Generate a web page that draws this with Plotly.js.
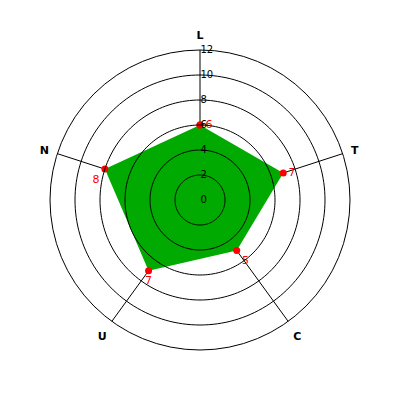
<!DOCTYPE html>
<html>
<head>
<meta charset="utf-8">
<script src="https://cdn.plot.ly/plotly-3.0.1.min.js"></script>
<style>html,body{margin:0;padding:0;background:#fff;}#chart{width:400px;height:400px;}</style>
</head>
<body>
<div id="chart"></div>
<script>
const categories = ["L", "T", "C", "U", "N"];
const values = [6, 7, 5, 7, 8];
const radialTicks = [0, 2, 4, 6, 8, 10, 12];
const gridCircles = [2, 4, 6, 8, 10];
const labelPositions = ["middle right", "middle right", "bottom right", "bottom center", "bottom left"];

const traces = [];
traces.push({
  type: "scatterpolar",
  subplot: "polar",
  r: values.concat([values[0]]),
  theta: categories.concat([categories[0]]),
  mode: "markers+text",
  fill: "toself",
  fillcolor: "#00aa00",
  line: {color: "#00aa00", width: 0},
  marker: {color: "#ff0000", size: 7},
  text: values.map(String).concat([""]),
  textposition: labelPositions.concat(["middle right"]),
  textfont: {color: "#ff0000", size: 11, family: "DejaVu Sans"},
  hoverinfo: "skip",
  showlegend: false,
  cliponaxis: false
});

// grid circles drawn over the fill, in an overlaid polar subplot
const circleThetas = [];
for (let a = 0; a <= 360; a += 2) circleThetas.push(a);
gridCircles.forEach(v => {
  traces.push({
    type: "scatterpolar",
    subplot: "polar2",
    r: circleThetas.map(() => v),
    theta: circleThetas,
    mode: "lines",
    line: {color: "#000", width: 1},
    hoverinfo: "skip",
    showlegend: false
  });
});

const dom = {x: [0.125, 0.875], y: [0.125, 0.875]};
const layout = {
  width: 400, height: 400,
  margin: {l: 0, r: 0, t: 0, b: 0},
  paper_bgcolor: "#fff",
  showlegend: false,
  polar: {
    domain: dom,
    bgcolor: "rgba(0,0,0,0)",
    radialaxis: {
      range: [0, 12],
      tickvals: radialTicks,
      ticktext: radialTicks.map(String),
      angle: 90,
      tickangle: 90,
      side: "clockwise",
      showgrid: false,
      showline: false,
      ticks: "",
      tickfont: {size: 10, family: "DejaVu Sans", color: "#000"},
      layer: "above traces"
    },
    angularaxis: {
      type: "category",
      categoryarray: categories,
      rotation: 90,
      direction: "clockwise",
      showgrid: true,
      gridcolor: "#000",
      gridwidth: 1,
      showline: true,
      linecolor: "#000",
      linewidth: 1,
      ticks: "outside",
      ticklen: 6,
      tickcolor: "rgba(0,0,0,0)",
      tickfont: {size: 11, family: "DejaVu Sans", color: "#000", weight: "bold"}
    }
  },
  polar2: {
    domain: dom,
    bgcolor: "rgba(0,0,0,0)",
    radialaxis: {range: [0, 12], visible: false, showgrid: false},
    angularaxis: {visible: false, showgrid: false, showline: false, ticks: "", showticklabels: false}
  }
};

Plotly.newPlot("chart", traces, layout, {staticPlot: true});
</script>
</body>
</html>
